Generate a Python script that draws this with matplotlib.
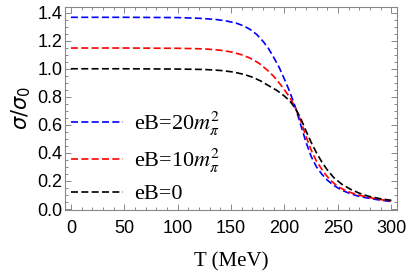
import matplotlib
matplotlib.use("Agg")
import matplotlib.pyplot as plt
from matplotlib.ticker import MultipleLocator, FormatStrFormatter

# values
T_b = [0, 50, 100, 120, 135, 145, 155, 162, 168, 174, 180, 185, 190, 195, 200,
       205, 210, 215, 220, 225, 230, 235, 240, 245, 250, 255, 262, 270, 280,
       290, 300]
s_b = [1.367, 1.367, 1.365, 1.36, 1.352, 1.342, 1.325, 1.305, 1.28, 1.245,
       1.195, 1.145, 1.08, 1.01, 0.925, 0.835, 0.73, 0.605, 0.48, 0.375, 0.3,
       0.248, 0.207, 0.175, 0.15, 0.13, 0.108, 0.09, 0.075, 0.063, 0.053]

T_r = [0, 50, 100, 125, 140, 150, 160, 168, 176, 184, 190, 196, 200, 205, 210,
       215, 220, 225, 230, 237, 243, 250, 258, 268, 280, 290, 300]
s_r = [1.148, 1.148, 1.146, 1.142, 1.132, 1.12, 1.1, 1.075, 1.04, 0.99, 0.945,
       0.89, 0.85, 0.795, 0.725, 0.635, 0.52, 0.42, 0.34, 0.26, 0.205, 0.16,
       0.128, 0.102, 0.081, 0.067, 0.057]

T_k = [0, 50, 100, 125, 140, 152, 162, 170, 178, 185, 193, 200, 205, 210, 215,
       220, 225, 230, 235, 240, 246, 254, 262, 270, 278, 290, 300]
s_k = [1.0, 1.0, 0.998, 0.995, 0.988, 0.977, 0.96, 0.94, 0.912, 0.88, 0.845,
       0.805, 0.77, 0.72, 0.65, 0.56, 0.475, 0.4, 0.335, 0.28, 0.225, 0.175,
       0.14, 0.113, 0.092, 0.073, 0.062]

labels = [r"eB=20$m_\pi^2$", r"eB=10$m_\pi^2$", "eB=0"]
colors = ["blue", "red", "black"]

plt.rcParams["mathtext.fontset"] = "stix"

fig = plt.figure(figsize=(4.09, 2.72), dpi=100)
ax = fig.add_axes([0.159, 0.228, 0.812, 0.746])

for T, s, lab, c in zip([T_b, T_r, T_k], [s_b, s_r, s_k], labels, colors):
    ax.plot(T, s, color=c, lw=1.2, dashes=(4.2, 2.0), label=lab)

ax.set_xlim(-5.5, 305.5)
ax.set_ylim(-0.007, 1.44)
ax.xaxis.set_major_locator(MultipleLocator(50))
ax.xaxis.set_minor_locator(MultipleLocator(10))
ax.yaxis.set_major_locator(MultipleLocator(0.2))
ax.yaxis.set_minor_locator(MultipleLocator(0.05))
ax.yaxis.set_major_formatter(FormatStrFormatter("%.1f"))

gray = "#888888"
for sp in ax.spines.values():
    sp.set_color(gray)
    sp.set_linewidth(0.8)
ax.tick_params(which="both", direction="in", top=True, right=True,
               color=gray, width=0.7, labelsize=13)
ax.tick_params(axis="x", which="major", pad=7)
ax.tick_params(axis="y", which="major", pad=2)
ax.tick_params(which="major", length=4)
ax.tick_params(which="minor", length=2)
for t in ax.get_xticklabels() + ax.get_yticklabels():
    t.set_fontfamily("Liberation Sans")

ax.set_xlabel("T (MeV)", family="Liberation Serif", fontsize=15, labelpad=11)
ax.set_ylabel(r"$\sigma/\sigma_0$", fontsize=15, math_fontfamily="dejavusans",
              labelpad=3)

ax.legend(loc="lower left", frameon=False, handlelength=2.35,
          handletextpad=0.5, labelspacing=0.4, borderpad=0.0,
          borderaxespad=0.25,
          prop={"family": "Liberation Serif", "size": 16})

fig.savefig("out.png", dpi=100)
